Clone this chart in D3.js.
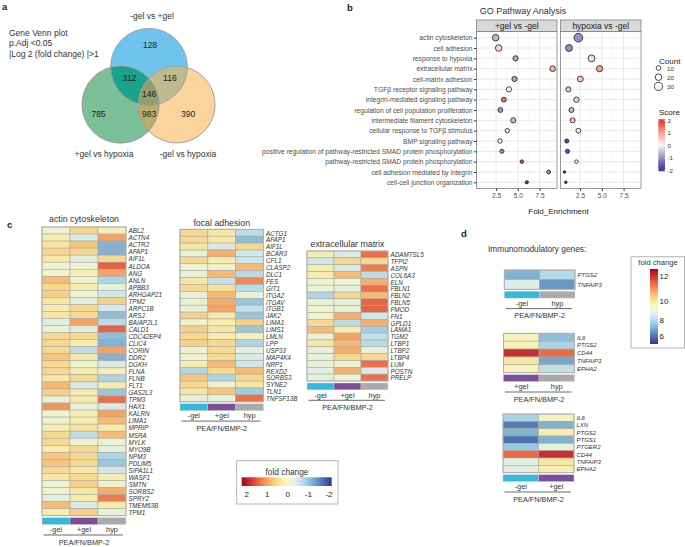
<!DOCTYPE html>
<html><head><meta charset="utf-8">
<script src="https://cdn.jsdelivr.net/npm/d3@7"></script>
<style>
body{margin:0;background:#fff;}
svg{font-family:"Liberation Sans",Arial,sans-serif;}
</style></head>
<body><svg id="c" width="685" height="547"></svg>
<script>
// ---------------- DATA ----------------
const vennSets = ["-gel vs +gel", "+gel vs hypoxia", "-gel vs hypoxia"];
const vennRegions = ["B", "G", "O", "BG", "BO", "GO", "BGO"];
const vennValues = [128, 785, 390, 312, 116, 983, 146];
const vennNote = ["Gene Venn plot", "p.Adj <0.05", "|Log 2 (fold change) |>1"];

const goTerms = ["actin cytoskeleton","cell adhesion","response to hypoxia","extracellular matrix","cell-matrix adhesion",
 "TGF\u03b2 receptor signaling pathway","integrin-mediated signaling pathway","regulation of cell population proliferation",
 "intermediate filament cytoskeleton","cellular response to TGF\u03b2 stimulus","BMP signaling pathway",
 "positive regulation of pathway-restricted SMAD protein phosphorylation","pathway-restricted SMAD protein phosphorylation",
 "cell adhesion mediated by integrin","cell-cell junction organization"];
const goFacets = ["+gel vs -gel", "hypoxia vs -gel"];
const foldGel = [2.45,2.8,4.74,9.0,4.62,3.97,3.4,2.99,4.47,3.79,2.94,3.17,5.46,8.54,6.03];
const foldHyp = [2.3,1.23,3.82,4.74,2.53,1.16,2.08,1.51,1.65,2.3,0.97,1.05,2.08,0.71,0.86];
const countGel = [20,20,13,15,13,13,11,11,13,9,9,8,6,7,5];
const countHyp = [35,22,22,18,16,12,14,12,12,11,8,8,6,3,3];
const scoreGel = [-0.6,0.4,-0.8,0.8,-0.8,0.0,1.5,-0.9,-0.6,0.3,0.0,-1.0,1.8,-1.0,-1.8];
const scoreHyp = [-1.0,-1.0,-0.2,0.9,0.6,-0.4,-0.3,-0.6,0.6,0.1,-1.7,-1.6,0.0,-1.9,-1.8];
const foldTicks = [2.5, 5.0, 7.5];
const countTicks = [10, 20, 30];
const scoreTicks = [2, 1, 0, -1, -2];

const groups3 = ["-gel", "+gel", "hyp"];
const actinGenes = ["ABL2","ACTN4","ACTR2","AFAP1","AIF1L","ALDOA","ANG","ANLN","APBB3","ARHGAP21","TPM2","ARPC1B","ARSJ",
 "BAIAP2L1","CALD1","CDC42EP4","CLIC4","CORIN","DDR2","DGKH","FLNA","FLNB","FLT1","GAS2L3","TPM3","HAX1","KALRN","LIMA1",
 "MPRIP","MSRA","MYLK","MYO9B","NPM3","PDLIM5","SIPA1L1","WASF1","SMTN","SORBS2","SPRY2","TMEM63B","TPM1"];
const actinValues = [[-0.1,0.5,0.1],[0.2,-0.4,1.0],[0.3,0.7,-1.2],[0.5,0.5,-1.2],[0.3,-0.3,0.5],[-0.1,-0.1,1.5],[-0.1,0.1,1.0],
 [0.8,-0.1,-0.8],[0.5,0.2,-0.2],[0.6,-0.1,-0.5],[0.3,-0.3,0.6],[0.2,0.5,-0.4],[0.3,0.5,-1.1],[-0.3,1.0,-0.7],[-0.2,-0.3,1.5],
 [0.5,0.5,-1.1],[0.5,0.2,-1.2],[0.5,-0.7,1.0],[0.7,0.3,-1.2],[0.5,-0.1,-0.4],[0.5,0.2,0.1],[0.3,0.5,-0.8],[0.8,-0.4,0.2],
 [0.6,0.2,-1.0],[-0.2,0.2,1.4],[1.1,-0.2,-0.4],[-0.1,0.1,1.0],[-0.1,0.2,0.8],[0.2,0.4,0.2],[0.5,-0.7,0.8],[0.5,-0.1,-0.1],
 [0.2,0.5,-0.2],[0.7,0.5,-0.8],[0.7,0.5,-1.0],[0.5,0.3,-0.5],[0.3,0.5,0.2],[-0.1,0.6,-0.1],[-0.1,0.3,0.9],[-0.3,0.2,1.3],
 [0.8,-0.4,0.2],[0.2,0.6,-0.2]];
const focalGenes = ["ACTG1","AFAP1","AIF1L","BCAR3","CFL1","CLASP2","DLC1","FES","GIT1","ITGA2","ITGAV","ITGB1","JAK2","LIMA1",
 "LIMS1","LMLN","LPP","USP33","MAP4K4","NRP1","REXD2","SORBS3","SYNE2","TLN1","TNFSF13B"];
const focalValues = [[0.5,0.3,-0.7],[0.5,0.3,-1.1],[0.3,-0.4,0.5],[-0.2,0.9,-0.5],[0.5,0.2,-0.5],[-0.1,-0.1,0.8],[-0.2,0.8,-0.7],
 [0.3,-0.6,1.2],[0.5,0.4,-0.7],[-0.2,0.8,-0.2],[-0.2,0.9,-1.0],[-0.2,1.0,-0.6],[0.6,0.3,-1.0],[-0.1,0.2,0.6],[0.6,0.3,-1.0],
 [0.5,0.2,0.1],[0.6,0.5,-0.8],[-0.1,0.5,-0.3],[-0.1,0.5,-0.4],[0.2,0.8,-0.5],[-0.8,0.5,0.8],[0.7,-0.8,0.5],[0.5,-0.1,0.3],
 [0.3,0.7,-0.9],[-0.2,-0.2,1.4]];
const ecmGenes = ["ADAMTSL5","TFPI2","ASPN","COL6A3","ELN","FBLN1","FBLN2","FBLN5","FMOD","FN1","GPLD1","LAMA1","TGM2","LTBP1",
 "LTBP2","LTBP4","LUM","POSTN","PRELP"];
const ecmValues = [[0.2,-0.4,1.4],[-0.5,0.5,0.5],[0.2,-0.4,1.3],[0.2,0.8,-0.7],[-0.1,-0.1,0.9],[-0.1,-0.3,1.4],[-0.8,0.5,0.8],
 [-0.2,-0.2,1.5],[-0.1,-0.2,1.5],[-0.1,0.9,-0.5],[0.5,-0.7,0.9],[0.8,0.2,-0.9],[-0.2,1.0,-0.6],[0.3,0.8,-0.7],[-0.2,0.9,-0.2],
 [-0.2,0.5,0.5],[-0.2,-0.1,1.4],[-0.3,0.9,-0.4],[-0.2,-0.1,1.4]];
const fcTicks = [2, 1, 0, -1, -2];

const imm1Groups = ["-gel", "hyp"];
const imm1Genes = ["PTGS2", "TNFAIP3"];
const imm1Values = [[7.0, 8.0], [8.7, 6.5]];
const imm2Groups = ["+gel", "hyp"];
const imm2Genes = ["IL6", "PTGS2", "CD44", "TNFAIP3", "EPHA2"];
const imm2Values = [[9.5, 7.3], [9.6, 7.8], [12.2, 11.5], [10.0, 6.8], [9.5, 8.2]];
const imm3Groups = ["-gel", "+gel"];
const imm3Genes = ["IL6", "LXN", "PTGS2", "PTGS1", "PTGER2", "CD44", "TNFAIP3", "EPHA2"];
const imm3Values = [[7.8, 9.5], [6.0, 7.0], [7.0, 9.8], [5.8, 7.0], [7.5, 9.0], [11.5, 12.2], [8.8, 10.0], [8.8, 9.7]];
const immTicks = [12, 10, 8, 6];
const groupColors = ["#36b7dc", "#7a4f98", "#a9aaab"];

// ---------------- DRAW ----------------
const svg = d3.select("#c");
const FONT = '"Liberation Sans",Arial,sans-serif';
function txt(g, x, y, s, size, opts = {}) {
  return g.append("text").attr("x", x).attr("y", y).text(s)
    .attr("font-size", size).attr("fill", opts.fill || "#222")
    .attr("text-anchor", opts.anchor || "start")
    .attr("dominant-baseline", "central")
    .attr("font-weight", opts.weight || null)
    .attr("font-style", opts.italic ? "italic" : null);
}
// panel letters
txt(svg, 2, 6, "a", 9.5, {weight: "bold"});
txt(svg, 347, 7.5, "b", 9.5, {weight: "bold"});
txt(svg, 7, 224, "c", 9.5, {weight: "bold"});
txt(svg, 461, 233, "d", 9.5, {weight: "bold"});

// ---- Panel a: Venn ----
(function () {
  const g = svg.append("g");
  const circles = {B: [149, 66.8, 38.4], G: [120.5, 104.6, 38.6], O: [176.7, 104.6, 38.4]};
  const baseCol = {B: "#6ec4ec", G: "#7bbf97", O: "#fad49a"};
  const defs = svg.append("defs");
  Object.entries(circles).forEach(([k, c]) => {
    defs.append("clipPath").attr("id", "clip" + k).append("circle").attr("cx", c[0]).attr("cy", c[1]).attr("r", c[2]);
  });
  Object.entries(circles).forEach(([k, c]) => {
    g.append("circle").attr("cx", c[0]).attr("cy", c[1]).attr("r", c[2]).attr("fill", baseCol[k]);
  });
  function inter(a, b, col) {
    const c = circles[a];
    g.append("g").attr("clip-path", "url(#clip" + b + ")")
      .append("circle").attr("cx", c[0]).attr("cy", c[1]).attr("r", c[2]).attr("fill", col);
  }
  inter("B", "G", "#18a48c");
  inter("B", "O", "#bdbc90");
  inter("G", "O", "#b6b06c");
  const c = circles.B;
  g.append("g").attr("clip-path", "url(#clipG)").append("g").attr("clip-path", "url(#clipO)")
    .append("circle").attr("cx", c[0]).attr("cy", c[1]).attr("r", c[2]).attr("fill", "#8fa06c");
  Object.entries(circles).forEach(([k, c]) => {
    g.append("circle").attr("cx", c[0]).attr("cy", c[1]).attr("r", c[2]).attr("fill", "none")
      .attr("stroke", "#9a9a9a").attr("stroke-width", 0.9);
  });
  const B = circles.B, G = circles.G, O = circles.O;
  const pos = {
    B: [B[0] + 1, B[1] - 21.5], G: [G[0] - 22, G[1] + 9], O: [O[0] + 11.5, O[1] + 9],
    BG: [(B[0] + G[0]) / 2 - 5.5, B[1] + 11.5], BO: [(B[0] + O[0]) / 2 + 7, B[1] + 11.5],
    GO: [(G[0] + O[0]) / 2 + 0.5, G[1] + 9], BGO: [(G[0] + O[0]) / 2 + 0.5, B[1] + 27.3]
  };
  vennRegions.forEach((r, i) => txt(g, pos[r][0], pos[r][1], vennValues[i], 8.5, {anchor: "middle", fill: "#222"}));
  txt(g, 152, 15.5, vennSets[0], 8.5, {anchor: "middle", fill: "#333"});
  txt(g, 104, 154, vennSets[1], 8.5, {anchor: "middle", fill: "#333"});
  txt(g, 188, 154, vennSets[2], 8.5, {anchor: "middle", fill: "#333"});
  vennNote.forEach((s, i) => txt(g, 9, 32.5 + i * 10.7, s, 8.5, {fill: "#333"}));
})();

// ---- Panel b: GO dot plot ----
(function () {
  const g = svg.append("g");
  const panels = [[476.5, 557], [560.5, 641]];
  const yTop = 31.5, yBot = 188.5;
  const y = d3.scalePoint().domain(goTerms).range([yTop, yBot]).padding(0.6);
  const rScale = d3.scaleSqrt().domain([0, 36]).range([0, 4.4]);
  const colScale = d3.scaleLinear().domain([-2, 0, 2]).range(["#34339a", "#f7f5f7", "#e5302b"]).interpolate(d3.interpolateLab).clamp(true);
  txt(g, 523, 11, "GO Pathway Analysis", 9, {anchor: "middle", fill: "#333"});
  const foldSets = [foldGel, foldHyp], countSets = [countGel, countHyp], scoreSets = [scoreGel, scoreHyp];
  panels.forEach((p, k) => {
    const x = d3.scaleLinear().domain([0.25, 9.5]).range(p);
    const pg = g.append("g");
    pg.append("rect").attr("x", p[0]).attr("y", yTop).attr("width", p[1] - p[0]).attr("height", yBot - yTop).attr("fill", "#fff");
    [1.25, 3.75, 6.25, 8.75].forEach(v => pg.append("line").attr("x1", x(v)).attr("x2", x(v)).attr("y1", yTop).attr("y2", yBot)
      .attr("stroke", "#f2f2f2").attr("stroke-width", 0.5));
    foldTicks.forEach(v => pg.append("line").attr("x1", x(v)).attr("x2", x(v)).attr("y1", yTop).attr("y2", yBot)
      .attr("stroke", "#e6e6e6").attr("stroke-width", 0.9));
    goTerms.forEach(t => pg.append("line").attr("x1", p[0]).attr("x2", p[1]).attr("y1", y(t)).attr("y2", y(t))
      .attr("stroke", "#e6e6e6").attr("stroke-width", 0.9));
    pg.append("rect").attr("x", p[0]).attr("y", yTop).attr("width", p[1] - p[0]).attr("height", yBot - yTop)
      .attr("fill", "none").attr("stroke", "#7f7f7f").attr("stroke-width", 0.8);
    // strip
    pg.append("rect").attr("x", p[0]).attr("y", 20).attr("width", p[1] - p[0]).attr("height", 11.5)
      .attr("fill", "#d9d9d9").attr("stroke", "#7f7f7f").attr("stroke-width", 0.8);
    txt(pg, (p[0] + p[1]) / 2, 26, goFacets[k], 8.5, {anchor: "middle", fill: "#1a1a1a"});
    // x axis
    const ax = d3.axisBottom(x).tickValues(foldTicks).tickFormat(d3.format(".1f")).tickSize(2.5).tickPadding(2);
    const axg = pg.append("g").attr("transform", `translate(0,${yBot})`).call(ax);
    axg.select(".domain").remove();
    axg.selectAll("line").attr("stroke", "#333");
    axg.selectAll("text").attr("font-size", 6.5).attr("fill", "#4d4d4d").attr("font-family", FONT);
    // dots
    goTerms.forEach((t, i) => {
      pg.append("circle").attr("cx", x(foldSets[k][i])).attr("cy", y(t)).attr("r", rScale(countSets[k][i]))
        .attr("fill", colScale(scoreSets[k][i])).attr("stroke", "#111").attr("stroke-width", 0.75);
    });
  });
  // y axis
  const ay = d3.axisLeft(y).tickSize(2.5).tickPadding(1.5);
  const ayg = g.append("g").attr("transform", `translate(${panels[0][0]},0)`).call(ay);
  ayg.select(".domain").remove();
  ayg.selectAll("line").attr("stroke", "#333");
  ayg.selectAll("text").attr("font-size", 6.7).attr("fill", "#4d4d4d").attr("font-family", FONT);
  txt(g, 558.5, 211.5, "Fold_Enrichment", 8, {anchor: "middle", fill: "#222"});
  // Count legend
  txt(g, 659, 61, "Count", 8, {fill: "#222"});
  countTicks.forEach((c, i) => {
    const cy = 68 + i * 9.2;
    g.append("circle").attr("cx", 658.5).attr("cy", cy).attr("r", rScale(c)).attr("fill", "#fff").attr("stroke", "#111").attr("stroke-width", 0.75);
    txt(g, 667, cy, c, 6.2, {fill: "#333"});
  });
  // Score legend
  txt(g, 659, 112.5, "Score", 8, {fill: "#222"});
  const sy = d3.scaleLinear().domain([-2, 2]).range([170, 120.5]);
  const grad = svg.select("defs").append("linearGradient").attr("id", "scoreGrad").attr("x1", 0).attr("x2", 0).attr("y1", 1).attr("y2", 0);
  d3.range(0, 1.001, 0.1).forEach(t => grad.append("stop").attr("offset", t).attr("stop-color", colScale(-2.1 + t * 4.2)));
  g.append("rect").attr("x", 658.3).attr("y", sy(2.1)).attr("width", 6.7).attr("height", sy(-2.1) - sy(2.1)).attr("fill", "url(#scoreGrad)");
  scoreTicks.forEach(v => {
    g.append("line").attr("x1", 658.3).attr("x2", 659.6).attr("y1", sy(v)).attr("y2", sy(v)).attr("stroke", "#fff").attr("stroke-width", 0.5);
    g.append("line").attr("x1", 663.7).attr("x2", 665).attr("y1", sy(v)).attr("y2", sy(v)).attr("stroke", "#fff").attr("stroke-width", 0.5);
    txt(g, 667.5, sy(v), v, 6.2, {fill: "#333"});
  });
})();

// ---- Heatmap helper ----
const fcColor = v => {
  const c = d3.color(d3.interpolateRdYlBu(Math.max(0, Math.min(1, 0.51 - v * 0.229))));
  return d3.interpolateRgb(c, "#b8b8a8")(0.1);
};
function heatmap(opts) {
  const g = svg.append("g");
  const x = d3.scaleBand().domain(opts.groups).range([opts.x0, opts.x1]);
  const y = d3.scaleBand().domain(opts.genes).range([opts.y0, opts.y1]);
  opts.genes.forEach((gene, i) => opts.groups.forEach((grp, j) => {
    g.append("rect").attr("x", x(grp)).attr("y", y(gene)).attr("width", x.bandwidth()).attr("height", y.bandwidth())
      .attr("fill", opts.color(opts.values[i][j])).attr("stroke", "#a5a5a5").attr("stroke-width", 0.55);
  }));
  g.append("rect").attr("x", opts.x0).attr("y", opts.y0).attr("width", opts.x1 - opts.x0).attr("height", opts.y1 - opts.y0)
    .attr("fill", "none").attr("stroke", "#b0b0b0").attr("stroke-width", 1);
  opts.genes.forEach(gene => txt(g, opts.x1 + 2.5, y(gene) + y.bandwidth() / 2 + 0.3, gene, opts.geneSize || 6.3, {italic: true, fill: "#333"}));
  const b = opts.y1;
  opts.groups.forEach((grp, j) => {
    g.append("rect").attr("x", x(grp)).attr("y", b + 2).attr("width", x.bandwidth()).attr("height", 6.8)
      .attr("fill", opts.gcolors[j]).attr("stroke", "#d0d0d0").attr("stroke-width", 0.4);
    txt(g, x(grp) + x.bandwidth() / 2, b + 14, grp, 7.3, {anchor: "middle", fill: "#333"});
  });
  g.append("line").attr("x1", opts.x0 + 1.5).attr("x2", opts.x1 - 3).attr("y1", b + 19.3).attr("y2", b + 19.3).attr("stroke", "#444").attr("stroke-width", 0.8);
  txt(g, (opts.x0 + opts.x1) / 2, b + 26.3, "PEA/FN/BMP-2", 7.3, {anchor: "middle", fill: "#333"});
  if (opts.title) txt(g, (opts.x0 + opts.x1) / 2, opts.titleY, opts.title, 8.8, {anchor: "middle", fill: "#333"});
}
heatmap({groups: groups3, genes: actinGenes, values: actinValues, x0: 42, x1: 126, y0: 227, y1: 515.7,
  color: fcColor, gcolors: groupColors, title: "actin cytoskeleton", titleY: 218.5});
heatmap({groups: groups3, genes: focalGenes, values: focalValues, x0: 180, x1: 263.5, y0: 229.3, y1: 401.8,
  color: fcColor, gcolors: groupColors, title: "focal adhesion", titleY: 222.5});
heatmap({groups: groups3, genes: ecmGenes, values: ecmValues, x0: 307, x1: 388, y0: 251, y1: 381,
  color: fcColor, gcolors: groupColors, title: "extracellular matrix", titleY: 244});

// fold change legend (c)
(function () {
  const g = svg.append("g");
  g.append("rect").attr("x", 236.7).attr("y", 460.7).attr("width", 101.3).attr("height", 43.3).attr("fill", "#fff").attr("stroke", "#b5b5b5").attr("stroke-width", 1);
  txt(g, 287, 471.7, "fold change", 8.3, {anchor: "middle", fill: "#333"});
  const lx = d3.scaleLinear().domain([2, -2]).range([246.7, 329]);
  const grad = svg.select("defs").append("linearGradient").attr("id", "fcGrad");
  d3.range(0, 1.001, 0.05).forEach(t => grad.append("stop").attr("offset", t).attr("stop-color", d3.interpolateRdYlBu(t)));
  g.append("rect").attr("x", 241.7).attr("y", 477.3).attr("width", 90).attr("height", 8.7).attr("fill", "url(#fcGrad)");
  fcTicks.forEach(v => txt(g, lx(v), 494, v, 8, {anchor: "middle", fill: "#222"}));
})();

// ---- Panel d ----
const immPos = d3.scaleLinear().domain([6, 8, 10, 12]).range([336, 320, 301.7, 276.7]);
const immBar = [269, 344];
const immColor = v => {
  const t = (immPos(v) - immBar[0]) / (immBar[1] - immBar[0]);
  const c = d3.color(d3.interpolateRdYlBu(Math.max(0, Math.min(1, t))));
  return d3.interpolateRgb(c, "#b8b8a8")(0.08);
};
txt(svg, 488, 249, "Immunomodulatory genes:", 8.3, {fill: "#333"});
heatmap({groups: imm1Groups, genes: imm1Genes, values: imm1Values, x0: 504.3, x1: 575, y0: 270, y1: 289.3,
  color: immColor, gcolors: [groupColors[0], groupColors[2]], geneSize: 6});
heatmap({groups: imm2Groups, genes: imm2Genes, values: imm2Values, x0: 503.5, x1: 574.5, y0: 333.3, y1: 372.7,
  color: immColor, gcolors: [groupColors[1], groupColors[2]], geneSize: 6});
heatmap({groups: imm3Groups, genes: imm3Genes, values: imm3Values, x0: 503, x1: 574, y0: 414, y1: 472.7,
  color: immColor, gcolors: [groupColors[0], groupColors[1]], geneSize: 6});
(function () {
  const g = svg.append("g");
  g.append("rect").attr("x", 631).attr("y", 256.7).attr("width", 53.5).attr("height", 91.3).attr("fill", "#fff").attr("stroke", "#b5b5b5").attr("stroke-width", 1);
  txt(g, 658, 262.5, "fold change", 7.6, {anchor: "middle", fill: "#333"});
  const grad = svg.select("defs").append("linearGradient").attr("id", "immGrad").attr("x1", 0).attr("x2", 0).attr("y1", 0).attr("y2", 1);
  d3.range(0, 1.001, 0.05).forEach(t => grad.append("stop").attr("offset", t).attr("stop-color", d3.interpolateRdYlBu(t)));
  g.append("rect").attr("x", 650).attr("y", immBar[0]).attr("width", 8).attr("height", immBar[1] - immBar[0]).attr("fill", "url(#immGrad)");
  immTicks.forEach(v => txt(g, 659.5, immPos(v), v, 8, {fill: "#222"}));
})();
</script></body></html>
